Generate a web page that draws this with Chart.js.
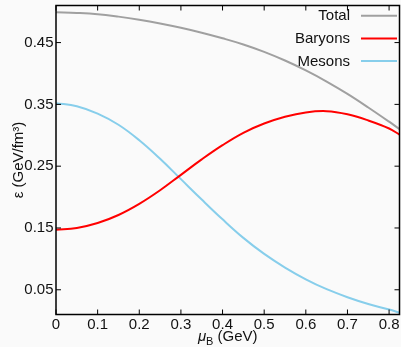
<!DOCTYPE html>
<html>
<head>
<meta charset="utf-8">
<script src="https://cdn.jsdelivr.net/npm/chart.js@4"></script>
<style>
  html, body { margin: 0; padding: 0; background: #fafafa; }
  #wrap { width: 401px; height: 347px; }
</style>
</head>
<body>
<div id="wrap"><canvas id="epsChart"></canvas></div>
<script>
// mu_B in GeV
const muB = [0, 0.05, 0.1, 0.15, 0.2, 0.25, 0.3, 0.35, 0.4, 0.45, 0.5, 0.55, 0.6, 0.65, 0.7, 0.75, 0.8, 0.825];
// energy density, GeV/fm^3
const total   = [0.499, 0.498, 0.496, 0.492, 0.487, 0.481, 0.474, 0.466, 0.457, 0.447, 0.435, 0.421, 0.405, 0.387, 0.367, 0.345, 0.322, 0.310];
const baryons = [0.147, 0.150, 0.158, 0.171, 0.189, 0.211, 0.236, 0.261, 0.284, 0.304, 0.319, 0.330, 0.337, 0.339, 0.334, 0.324, 0.311, 0.301];
const mesons  = [0.352, 0.347, 0.335, 0.317, 0.292, 0.262, 0.229, 0.196, 0.164, 0.134, 0.108, 0.086, 0.067, 0.051, 0.038, 0.027, 0.018, 0.013];

const xTicks = [0, 0.1, 0.2, 0.3, 0.4, 0.5, 0.6, 0.7, 0.8];
const yTicks = [0.05, 0.15, 0.25, 0.35, 0.45];

const FONT = '"Liberation Sans", Arial, Helvetica, sans-serif';

const toPoints = (ys) => muB.map((x, i) => ({ x: x, y: ys[i] }));

// frame, inward ticks, axis titles and legend
const framePlugin = {
  id: "frame",
  afterDraw(chart) {
    const { ctx, chartArea: a, scales } = chart;
    const line = (x1, y1, x2, y2) => {
      ctx.beginPath();
      ctx.moveTo(x1, y1);
      ctx.lineTo(x2, y2);
      ctx.stroke();
    };
    ctx.save();
    ctx.strokeStyle = "#000";
    ctx.lineWidth = 1.5;
    ctx.strokeRect(a.left, a.top, a.right - a.left, a.bottom - a.top);

    ctx.lineWidth = 1;
    const len = 5;
    xTicks.forEach((v) => {
      const px = scales.x.getPixelForValue(v);
      line(px, a.bottom, px, a.bottom - len);
      line(px, a.top, px, a.top + len);
    });
    yTicks.forEach((v) => {
      const py = scales.y.getPixelForValue(v);
      line(a.left, py, a.left + len, py);
      line(a.right, py, a.right - len, py);
    });

    // x title: mu_B (GeV)
    ctx.fillStyle = "#111";
    ctx.textBaseline = "alphabetic";
    const cx = (a.left + a.right) / 2;
    const base = 341;
    ctx.font = "italic 15px " + FONT;
    const wMu = ctx.measureText("\u03bc").width;
    ctx.font = "11px " + FONT;
    const wB = ctx.measureText("B").width;
    ctx.font = "15px " + FONT;
    const wRest = ctx.measureText(" (GeV)").width;
    let x0 = cx - (wMu + wB + wRest) / 2;
    ctx.textAlign = "left";
    ctx.font = "italic 15px " + FONT;
    ctx.fillText("\u03bc", x0, base);
    ctx.font = "11px " + FONT;
    ctx.fillText("B", x0 + wMu, base + 4);
    ctx.font = "15px " + FONT;
    ctx.fillText(" (GeV)", x0 + wMu + wB, base);

    // y title
    ctx.save();
    ctx.translate(23, (a.top + a.bottom) / 2);
    ctx.rotate(-Math.PI / 2);
    ctx.textAlign = "center";
    ctx.font = "15px " + FONT;
    ctx.fillText("\u03b5 (GeV/fm\u00b3)", 0, 0);
    ctx.restore();

    // legend, text on the left of the line sample
    ctx.font = "15px " + FONT;
    ctx.textAlign = "right";
    ctx.textBaseline = "middle";
    chart.data.datasets.forEach((ds, i) => {
      const y = 15.7 + i * 22.7;
      ctx.fillStyle = "#111";
      ctx.fillText(ds.label, 350, y + 0.5);
      ctx.strokeStyle = ds.borderColor;
      ctx.lineWidth = 2;
      line(361, y, 397, y);
    });
    ctx.restore();
  },
};

const ctx = document.getElementById("epsChart").getContext("2d");
const chart = new Chart(ctx, {
  type: "line",
  data: {
    datasets: [
      {
        label: "Total",
        data: toPoints(total),
        borderColor: "#a0a0a0",
      },
      {
        label: "Baryons",
        data: toPoints(baryons),
        borderColor: "#ff0000",
      },
      {
        label: "Mesons",
        data: toPoints(mesons),
        borderColor: "#87ceeb",
      },
    ],
  },
  options: {
    responsive: true,
    maintainAspectRatio: false,
    animation: false,
    layout: { padding: { top: 5.5, right: 1.5, left: 0, bottom: 0 } },
    elements: {
      point: { radius: 0 },
      line: { borderWidth: 2, tension: 0.4, fill: false },
    },
    plugins: {
      legend: { display: false },
      tooltip: { enabled: false },
    },
    scales: {
      x: {
        type: "linear",
        min: 0,
        max: 0.825,
        grid: { display: false, drawTicks: false },
        border: { display: false },
        afterBuildTicks: (s) => { s.ticks = xTicks.map((v) => ({ value: v })); },
        afterFit: (s) => { s.height = 32.5; s.paddingLeft = 0; s.paddingRight = 0; },
        ticks: {
          color: "#111",
          font: { family: FONT, size: 15 },
          padding: 1,
          maxRotation: 0,
          autoSkip: false,
          callback: (v) => String(v),
        },
      },
      y: {
        min: 0.01,
        max: 0.51,
        grid: { display: false, drawTicks: false },
        border: { display: false },
        afterBuildTicks: (s) => { s.ticks = yTicks.map((v) => ({ value: v })); },
        afterFit: (s) => { s.width = 56; s.paddingTop = 0; s.paddingBottom = 0; },
        ticks: {
          color: "#111",
          font: { family: FONT, size: 15 },
          padding: 2.5,
          callback: (v) => v.toFixed(2),
        },
      },
    },
  },
  plugins: [framePlugin],
});
</script>
</body>
</html>
